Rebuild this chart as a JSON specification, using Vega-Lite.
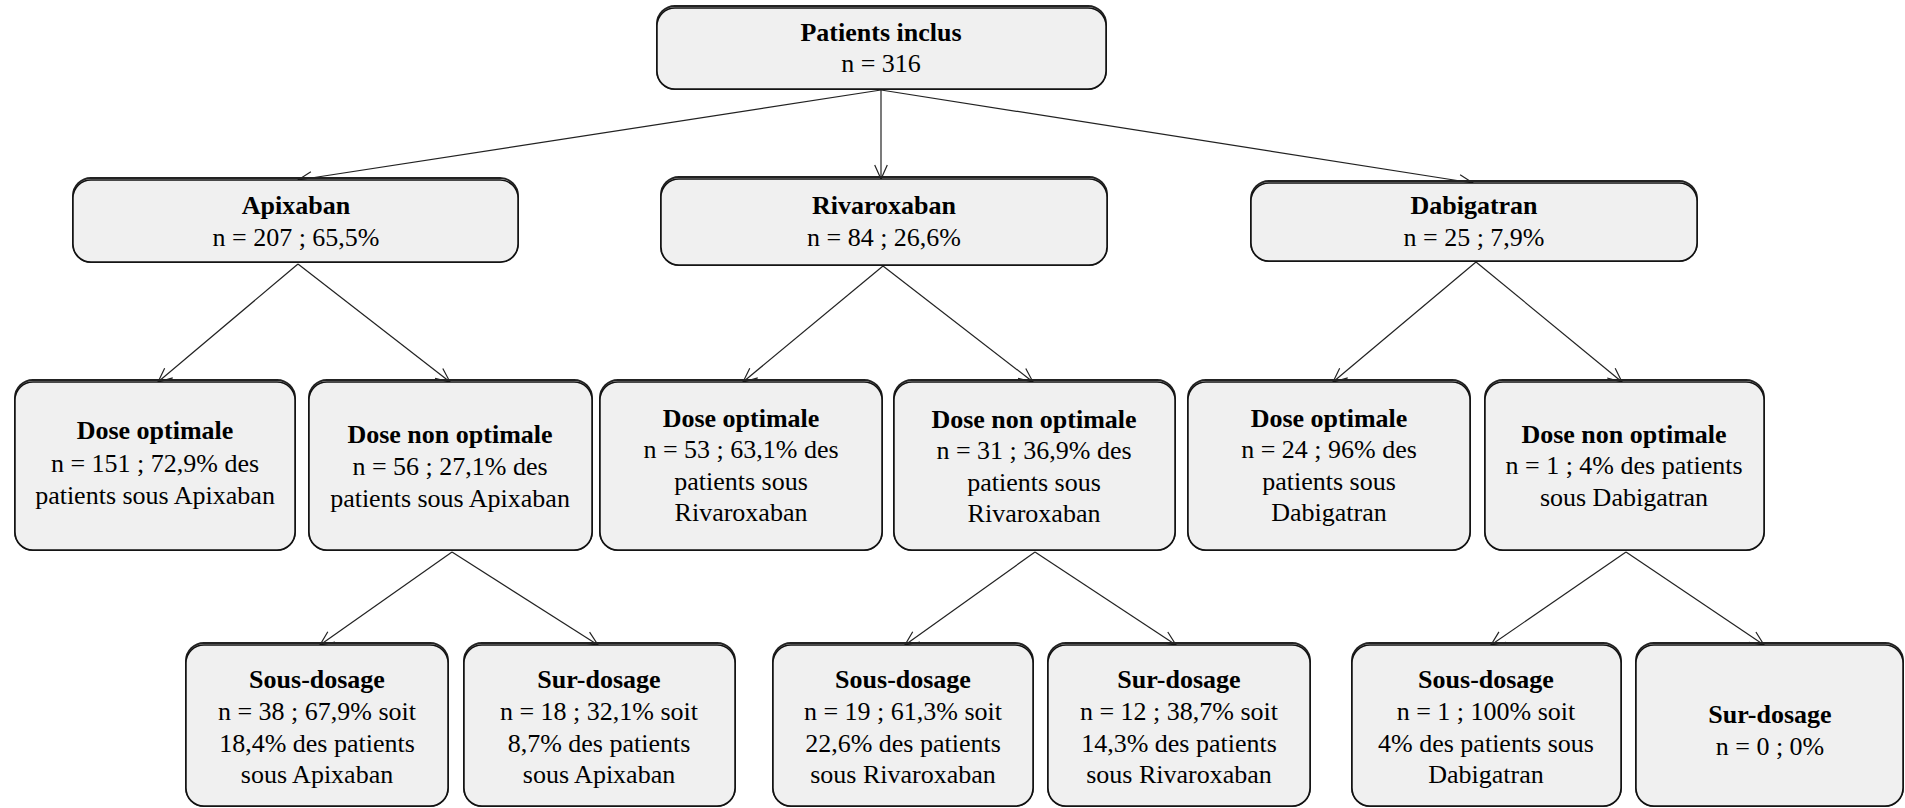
{
  "$schema": "https://vega.github.io/schema/vega-lite/v6.json",
  "width": 1905,
  "height": 808,
  "padding": 0,
  "autosize": {"type": "fit", "contains": "padding"},
  "background": "white",
  "config": {"view": {"stroke": null}},
  "datasets": {
    "boxes": [
      {"id": "root", "x1": 657, "x2": 1106, "y1": 8, "y2": 89},
      {"id": "apix", "x1": 73, "x2": 518, "y1": 180, "y2": 262},
      {"id": "riva", "x1": 661, "x2": 1107, "y1": 179, "y2": 265},
      {"id": "dabi", "x1": 1251, "x2": 1697, "y1": 183, "y2": 261},
      {"id": "do1", "x1": 15, "x2": 295, "y1": 382, "y2": 550},
      {"id": "dno1", "x1": 309, "x2": 592, "y1": 382, "y2": 550},
      {"id": "do2", "x1": 600, "x2": 882, "y1": 382, "y2": 550},
      {"id": "dno2", "x1": 894, "x2": 1175, "y1": 382, "y2": 550},
      {"id": "do3", "x1": 1188, "x2": 1470, "y1": 382, "y2": 550},
      {"id": "dno3", "x1": 1485, "x2": 1764, "y1": 382, "y2": 550},
      {"id": "sous1", "x1": 186, "x2": 448, "y1": 645, "y2": 806},
      {"id": "sur1", "x1": 464, "x2": 735, "y1": 645, "y2": 806},
      {"id": "sous2", "x1": 773, "x2": 1033, "y1": 645, "y2": 806},
      {"id": "sur2", "x1": 1048, "x2": 1310, "y1": 645, "y2": 806},
      {"id": "sous3", "x1": 1352, "x2": 1621, "y1": 645, "y2": 806},
      {"id": "sur3", "x1": 1636, "x2": 1903, "y1": 645, "y2": 806}
    ],
    "arrows": [
      {"x1": 881, "y1": 90, "x2": 298, "y2": 180, "angle": 81.3},
      {"x1": 881, "y1": 90, "x2": 881, "y2": 179, "angle": 0},
      {"x1": 881, "y1": 90, "x2": 1473, "y2": 183, "angle": 278.7},
      {"x1": 298, "y1": 264, "x2": 158, "y2": 382, "angle": 49.9},
      {"x1": 298, "y1": 264, "x2": 450, "y2": 382, "angle": 307.8},
      {"x1": 883, "y1": 266, "x2": 743, "y2": 382, "angle": 50.4},
      {"x1": 883, "y1": 266, "x2": 1033, "y2": 382, "angle": 307.7},
      {"x1": 1476, "y1": 262, "x2": 1333, "y2": 382, "angle": 50},
      {"x1": 1476, "y1": 262, "x2": 1622, "y2": 382, "angle": 309.4},
      {"x1": 452, "y1": 552, "x2": 320, "y2": 645, "angle": 54.8},
      {"x1": 452, "y1": 552, "x2": 598, "y2": 645, "angle": 302.5},
      {"x1": 1035, "y1": 552, "x2": 905, "y2": 645, "angle": 54.4},
      {"x1": 1035, "y1": 552, "x2": 1176, "y2": 645, "angle": 303.4},
      {"x1": 1626, "y1": 552, "x2": 1491, "y2": 645, "angle": 55.4},
      {"x1": 1626, "y1": 552, "x2": 1764, "y2": 645, "angle": 304}
    ],
    "titles": [
      {"x": 881, "y": 41, "t": "Patients inclus"},
      {"x": 296, "y": 214, "t": "Apixaban"},
      {"x": 884, "y": 214, "t": "Rivaroxaban"},
      {"x": 1474, "y": 214, "t": "Dabigatran"},
      {"x": 155, "y": 439, "t": "Dose optimale"},
      {"x": 450, "y": 443, "t": "Dose non  optimale"},
      {"x": 741, "y": 427, "t": "Dose optimale"},
      {"x": 1034, "y": 428, "t": "Dose non  optimale"},
      {"x": 1329, "y": 427, "t": "Dose optimale"},
      {"x": 1624, "y": 443, "t": "Dose non  optimale"},
      {"x": 317, "y": 688, "t": "Sous-dosage"},
      {"x": 599, "y": 688, "t": "Sur-dosage"},
      {"x": 903, "y": 688, "t": "Sous-dosage"},
      {"x": 1179, "y": 688, "t": "Sur-dosage"},
      {"x": 1486, "y": 688, "t": "Sous-dosage"},
      {"x": 1770, "y": 723, "t": "Sur-dosage"}
    ],
    "bodies": [
      {"x": 881, "y": 72, "t": "n = 316"},
      {"x": 296, "y": 246, "t": "n = 207 ; 65,5%"},
      {"x": 884, "y": 246, "t": "n = 84 ; 26,6%"},
      {"x": 1474, "y": 246, "t": "n = 25 ; 7,9%"},
      {"x": 155, "y": 472, "t": "n = 151 ; 72,9% des\npatients sous Apixaban"},
      {"x": 450, "y": 475, "t": "n = 56 ; 27,1% des\npatients sous Apixaban"},
      {"x": 741, "y": 458, "t": "n = 53 ; 63,1% des\npatients sous\nRivaroxaban"},
      {"x": 1034, "y": 459, "t": "n = 31 ; 36,9% des\npatients sous\nRivaroxaban"},
      {"x": 1329, "y": 458, "t": "n = 24 ; 96% des\npatients sous\nDabigatran"},
      {"x": 1624, "y": 474, "t": "n = 1 ; 4% des patients\nsous Dabigatran"},
      {"x": 317, "y": 720, "t": "n = 38 ; 67,9% soit\n18,4% des patients\nsous Apixaban"},
      {"x": 599, "y": 720, "t": "n = 18 ; 32,1% soit\n8,7% des patients\nsous Apixaban"},
      {"x": 903, "y": 720, "t": "n = 19 ; 61,3% soit\n22,6% des patients\nsous Rivaroxaban"},
      {"x": 1179, "y": 720, "t": "n = 12 ; 38,7% soit\n14,3% des patients\nsous Rivaroxaban"},
      {"x": 1486, "y": 720, "t": "n = 1 ; 100% soit\n4% des patients sous\nDabigatran"},
      {"x": 1770, "y": 755, "t": "n = 0 ; 0%"}
    ]
  },
  "layer": [
    {
      "data": {"name": "arrows"},
      "mark": {"type": "rule", "color": "#222", "strokeWidth": 1.2},
      "encoding": {
        "x": {"field": "x1", "type": "quantitative", "scale": {"domain": [0, 1905], "nice": false, "zero": false}, "axis": null},
        "y": {"field": "y1", "type": "quantitative", "scale": {"domain": [0, 808], "nice": false, "zero": false, "reverse": true}, "axis": null},
        "x2": {"field": "x2"},
        "y2": {"field": "y2"}
      }
    },
    {
      "data": {"name": "arrows"},
      "mark": {"type": "point", "shape": "M -0.45 -1 L 0 0 L 0.45 -1", "filled": false, "stroke": "#222", "strokeWidth": 1.2, "size": 784, "opacity": 1},
      "encoding": {
        "x": {"field": "x2", "type": "quantitative"},
        "y": {"field": "y2", "type": "quantitative"},
        "angle": {"field": "angle", "type": "quantitative", "scale": null}
      }
    },
    {
      "data": {"name": "boxes"},
      "mark": {"type": "rect", "fill": "#3a3a3a", "cornerRadius": 18, "yOffset": 3},
      "encoding": {
        "x": {"field": "x1", "type": "quantitative"},
        "x2": {"field": "x2"},
        "y": {"field": "y1", "type": "quantitative"},
        "y2": {"field": "y2"}
      }
    },
    {
      "data": {"name": "boxes"},
      "mark": {"type": "rect", "fill": null, "stroke": "#222", "strokeWidth": 2, "cornerRadius": 18, "yOffset": -2},
      "encoding": {
        "x": {"field": "x1", "type": "quantitative"},
        "x2": {"field": "x2"},
        "y": {"field": "y1", "type": "quantitative"},
        "y2": {"field": "y2"}
      }
    },
    {
      "data": {"name": "boxes"},
      "mark": {"type": "rect", "fill": "#f0f0f0", "stroke": "#111", "strokeWidth": 1.5, "cornerRadius": 18},
      "encoding": {
        "x": {"field": "x1", "type": "quantitative"},
        "x2": {"field": "x2"},
        "y": {"field": "y1", "type": "quantitative"},
        "y2": {"field": "y2"}
      }
    },
    {
      "data": {"name": "titles"},
      "mark": {"type": "text", "font": "Liberation Serif", "fontWeight": "bold", "fontSize": 26, "align": "center", "baseline": "alphabetic", "color": "#000"},
      "encoding": {
        "x": {"field": "x", "type": "quantitative"},
        "y": {"field": "y", "type": "quantitative"},
        "text": {"field": "t"}
      }
    },
    {
      "data": {"name": "bodies"},
      "mark": {"type": "text", "font": "Liberation Serif", "fontSize": 26, "lineHeight": 31.5, "lineBreak": "\n", "align": "center", "baseline": "alphabetic", "color": "#000"},
      "encoding": {
        "x": {"field": "x", "type": "quantitative"},
        "y": {"field": "y", "type": "quantitative"},
        "text": {"field": "t"}
      }
    }
  ]
}
